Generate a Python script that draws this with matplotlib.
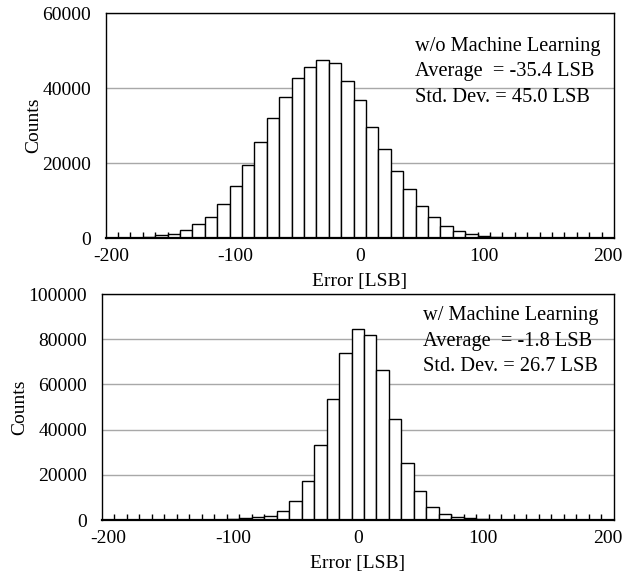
import numpy as np
import matplotlib
matplotlib.use("Agg")
import matplotlib.pyplot as plt

plt.rcParams['font.family'] = ['Liberation Serif', 'DejaVu Serif']
plt.rcParams['axes.unicode_minus'] = False

# error bins (LSB), one category per 10 LSB
ERROR_BINS = list(range(-200, 201, 10))

# counts without machine learning
COUNTS_WO_ML = [0, 0, 50, 300, 700, 1100, 2100, 3700, 5700, 9100,
                13900, 19400, 25700, 32100, 37600, 42700, 45600, 47500, 46600, 41800,
                36700, 29700, 23700, 18000, 13000, 8600, 5500, 3200, 1800, 1000,
                600, 300, 100, 0, 0, 0, 0, 0, 0, 0, 0]

# counts with machine learning
COUNTS_W_ML = [0, 0, 0, 0, 0, 0, 0, 0, 100, 200,
               440, 730, 1170, 1900, 4100, 8500, 17400, 33300, 53600, 73700,
               84700, 82000, 66200, 44500, 25200, 12700, 5900, 2500, 1200, 730,
               440, 200, 100, 0, 0, 0, 0, 0, 0, 0, 0]

XTICKS = [-200, -100, 0, 100, 200]
LABELS_WO = ['w/o Machine Learning', 'Average  = -35.4 LSB', 'Std. Dev. = 45.0 LSB']
LABELS_W = ['w/ Machine Learning', 'Average  = -1.8 LSB', 'Std. Dev. = 26.7 LSB']

FS = 14
FS_NOTE = 14.7


def draw_hist(ax, counts, ymax, ystep, lines, text_x, text_y0, ylab_x):
    ax.bar(ERROR_BINS, counts, width=10, color='white', edgecolor='black',
           linewidth=1.0, zorder=2)
    ax.set_xlim(-205, 205)
    ax.set_ylim(0, ymax)
    ax.set_xticks(XTICKS)
    ax.set_xticks(np.arange(-195, 200, 10), minor=True)
    ax.set_yticks(np.arange(0, ymax + 1, ystep))
    ax.tick_params(axis='x', which='major', length=0, pad=7, labelsize=FS)
    ax.tick_params(axis='x', which='minor', direction='in', length=4,
                   width=1, color='black')
    ax.tick_params(axis='y', length=0, pad=10.5, labelsize=FS)
    ax.yaxis.grid(True, color='#a8a8a8', linewidth=1.0, zorder=0)
    ax.set_axisbelow(True)
    for s in ax.spines.values():
        s.set_linewidth(1.0)
    ax.spines['bottom'].set_linewidth(1.6)
    ax.set_xlabel('Error [LSB]', fontsize=FS)
    ax.set_ylabel('Counts', fontsize=FS)
    ax.xaxis.set_label_coords(0.5, -0.155)
    ax.yaxis.set_label_coords(ylab_x, 0.5)
    for i, line in enumerate(lines):
        ax.text(text_x, text_y0 - i * 0.113, line, transform=ax.transAxes,
                fontsize=FS_NOTE, ha='left', va='center', zorder=3)


fig = plt.figure(figsize=(6.36, 5.78), dpi=100)
ax1 = fig.add_axes([0.1659, 0.5882, 0.7995, 0.3893])
ax2 = fig.add_axes([0.1596, 0.1003, 0.8058, 0.3910])

draw_hist(ax1, COUNTS_WO_ML, 60000, 20000, LABELS_WO, 0.609, 0.852, -0.125)
draw_hist(ax2, COUNTS_W_ML, 100000, 20000, LABELS_W, 0.627, 0.904, -0.143)

fig.savefig('out.png', dpi=100)
